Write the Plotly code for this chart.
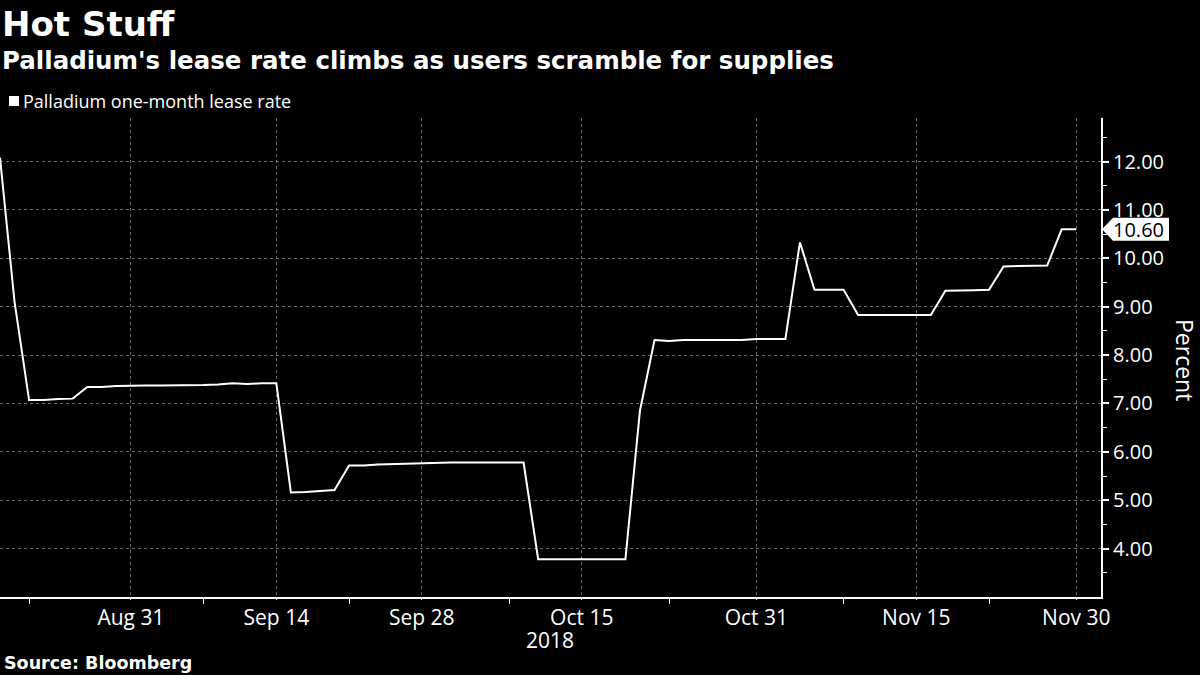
import pandas as pd
import plotly.graph_objects as go

# ---------------- data ----------------
dates = pd.bdate_range("2018-08-20", "2018-11-30")  # 75 weekdays
lease_rate = [
    12.08, 9.10, 7.07, 7.07, 7.09,          # Aug 20-24
    7.10, 7.34, 7.34, 7.36, 7.37,           # Aug 27-31
    7.37, 7.37, 7.37, 7.38, 7.38,           # Sep 3-7
    7.39, 7.42, 7.40, 7.42, 7.42,           # Sep 10-14
    5.16, 5.17, 5.19, 5.21, 5.72,           # Sep 17-21
    5.72, 5.74, 5.75, 5.76, 5.76,           # Sep 24-28
    5.77, 5.78, 5.78, 5.78, 5.78,           # Oct 1-5
    5.78, 5.78, 3.78, 3.78, 3.78,           # Oct 8-12
    3.78, 3.78, 3.78, 3.78, 6.85,           # Oct 15-19
    8.31, 8.29, 8.31, 8.31, 8.31,           # Oct 22-26
    8.31, 8.31, 8.33, 8.33, 8.33,           # Oct 29-Nov 2
    10.33, 9.35, 9.35, 9.35, 8.83,          # Nov 5-9
    8.83, 8.83, 8.83, 8.83, 8.83,           # Nov 12-16
    9.33, 9.33, 9.34, 9.35, 9.83,           # Nov 19-23
    9.84, 9.84, 9.85, 10.60, 10.60,         # Nov 26-30
]
series_name = "Palladium one-month lease rate"

x_tick_dates = ["2018-08-31", "2018-09-14", "2018-09-28", "2018-10-15",
                "2018-10-31", "2018-11-15", "2018-11-30"]
x_tick_labels = ["Aug 31", "Sep 14", "Sep 28", "Oct 15", "Oct 31", "Nov 15", "Nov 30"]
x_minor_dates = ["2018-08-22", "2018-09-07", "2018-09-21", "2018-10-08",
                 "2018-10-23", "2018-11-08", "2018-11-22"]
y_tick_vals = [4, 5, 6, 7, 8, 9, 10, 11, 12]
y_tick_labels = [f"{v:.2f}" for v in y_tick_vals]
y_minor_vals = [3.5, 4.5, 5.5, 6.5, 7.5, 8.5, 9.5, 10.5, 11.5, 12.5]
year_label = "2018"

FONT = "Open Sans"
BOLD = "DejaVu Sans"
GRID = "#6a6a6a"
PH = 479  # plot height in px (675 - 118 - 78)


def ypix(Y):
    """paper y coordinate for a pixel row of the page"""
    return (597 - Y) / PH


fig = go.Figure()
fig.add_trace(go.Scatter(
    x=dates, y=lease_rate, mode="lines", name=series_name,
    line=dict(color="white", width=2), showlegend=False,
))

fig.update_layout(
    width=1200, height=675,
    paper_bgcolor="black", plot_bgcolor="black",
    margin=dict(l=0, r=99, t=118, b=78),
    font=dict(family=FONT, color="white"),
    showlegend=False,
)

fig.update_xaxes(
    type="date",
    range=["2018-08-20", "2018-12-03 16:48"],
    rangebreaks=[dict(bounds=["sat", "mon"])],
    tickvals=x_tick_dates, ticktext=x_tick_labels,
    tickfont=dict(size=21, color="white", family=FONT),
    ticks="outside", ticklen=1, tickcolor="white", tickwidth=1,
    showline=True, linecolor="white", linewidth=2,
    showgrid=True, gridcolor=GRID, griddash="dot", gridwidth=1,
    minor=dict(tickvals=x_minor_dates, ticks="outside", ticklen=5,
               tickcolor="white", tickwidth=1, showgrid=False),
    zeroline=False,
)

fig.update_yaxes(
    side="right",
    range=[3.0, 12.9],
    tickvals=y_tick_vals, ticktext=y_tick_labels,
    tickfont=dict(size=20, color="white", family=FONT),
    ticks="outside", ticklen=6, tickcolor="white", tickwidth=2,
    showline=True, linecolor="white", linewidth=2,
    showgrid=True, gridcolor=GRID, griddash="dot", gridwidth=1,
    minor=dict(tickvals=y_minor_vals, ticks="outside", ticklen=4,
               tickcolor="white", tickwidth=1, showgrid=False),
    zeroline=False,
)

# Titles
fig.add_annotation(text="<b>Hot Stuff</b>", xref="paper", yref="paper",
                   x=0, y=ypix(24), xanchor="left", yanchor="middle",
                   showarrow=False, font=dict(size=34, family=BOLD, color="white"))
fig.add_annotation(text="<b>Palladium's lease rate climbs as users scramble for supplies</b>",
                   xref="paper", yref="paper", x=0, y=ypix(60), xanchor="left", yanchor="middle",
                   showarrow=False, font=dict(size=24.5, family=BOLD, color="white"))
# Legend
fig.add_shape(type="path", xref="paper", yref="paper",
              xsizemode="pixel", ysizemode="pixel",
              xanchor=0, yanchor=ypix(101),
              path="M 9 -5 L 19 -5 L 19 5 L 9 5 Z",
              line=dict(width=0), fillcolor="white")
fig.add_annotation(text=series_name, xref="paper", yref="paper",
                   x=0, y=ypix(101), xanchor="left", yanchor="middle", xshift=21,
                   showarrow=False, font=dict(size=18, family=FONT, color="white"))

# Year label
fig.add_annotation(text=year_label, xref="paper", yref="paper", x=550 / 1101, y=ypix(640),
                   xanchor="center", yanchor="middle", showarrow=False,
                   font=dict(size=21, family=FONT, color="white"))
# Source
fig.add_annotation(text="<b>Source: Bloomberg</b>", xref="paper", yref="paper",
                   x=0, y=ypix(663), xanchor="left", yanchor="middle", xshift=2,
                   showarrow=False, font=dict(size=17.5, family=BOLD, color="white"))
# Axis title
fig.add_annotation(text="Percent", xref="paper", yref="paper", x=1185 / 1101, y=ypix(360),
                   xanchor="center", yanchor="middle", textangle=90, showarrow=False,
                   font=dict(size=23, family=FONT, color="white"))

# Last value label
last_val = lease_rate[-1]
fig.add_shape(type="path", xref="paper", yref="y",
              xsizemode="pixel", ysizemode="pixel",
              xanchor=1.0, yanchor=last_val,
              path="M 1 0 L 12 11.5 L 68 11.5 L 68 -11.5 L 12 -11.5 Z",
              line=dict(width=0), fillcolor="white")
fig.add_annotation(text=f"{last_val:.2f}", xref="paper", yref="y", x=1.0, y=last_val,
                   xanchor="left", yanchor="middle", xshift=10, showarrow=False,
                   font=dict(size=20, family=FONT, color="black"))

fig.write_html("out.html")
